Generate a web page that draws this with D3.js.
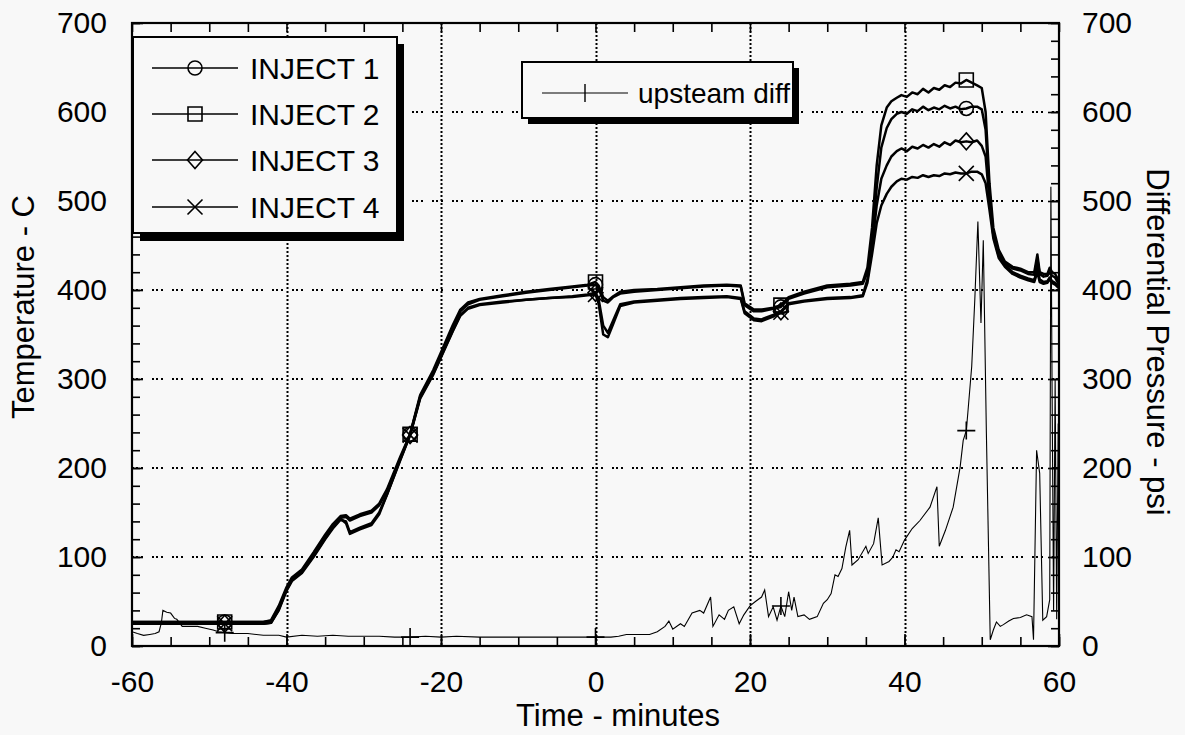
<!DOCTYPE html>
<html><head><meta charset="utf-8">
<script src="https://cdn.jsdelivr.net/npm/d3@7"></script>
<style>
html,body{margin:0;padding:0;background:#f8f8f8;}
svg{display:block;font-family:"Liberation Sans",Arial,Helvetica,sans-serif;}
</style></head><body>
<svg id="chart" width="1185" height="735"></svg>
<script>
// ---------- DATA ----------
const tempTime = [-60,-48,-43,-42,-41,-40,-39.3,-38,-36.5,-35,-34,-33,-32.3,-31.8,-30.5,-29,-28,-27,-25.3,-24,-22.7,-21,-19.7,-18.5,-17.5,-16.5,-15,-12,-9,-6,-3,-1,0,0.4,1,1.6,2.3,3.2,5,8,11,14,17,18.8,19.3,20.5,21.5,23,24,25,27,30,33,34.6,35.2,35.8,36.4,37,37.7,38.3,39,39.6,40.3,41,41.7,42.4,43.1,43.8,44.5,45.2,45.9,46.6,47.3,48,48.7,49.4,50,50.5,51,51.5,52.2,53,54,55,56,56.8,57.2,57.5,58,58.5,58.8,59.1,59.5,60];
const inject1 = [27,27,27,28,43,64,75,84,103,123,135,144,145,141,146,150,158,174,210,238,280,307,333,357,376,384,389,393,397,400,403,405,406,402,388,386,392,396,398,400,402,404,405,404,383,376,376,379,381,390,396,403,405,407,420,455,515,560,582,592,598,600,598,603,601,606,602,605,603,607,604,606,603,604,606,606,603,580,510,462,440,430,424,422,418,417,435,418,415,416,420,416,414,406];
const inject2 = [27,27,27,29,45,66,77,86,105,125,137,146,147,143,148,152,160,176,212,238,282,310,336,360,378,386,390,394,398,401,404,406,409,405,392,388,393,398,400,401,403,405,406,405,385,378,378,380,383,392,398,405,407,409,425,470,540,585,605,612,616,619,617,622,620,626,622,627,625,630,628,633,632,636,633,630,627,600,520,470,445,432,426,424,420,420,440,420,418,418,425,420,418,410];
const inject3 = [25,25,25,26,40,62,73,82,100,120,132,142,140,128,133,138,150,170,208,237,278,305,330,353,371,379,383,386,389,391,393,395,397,390,360,352,366,384,387,389,391,392,393,391,376,368,367,372,376,385,388,391,392,394,412,448,495,525,540,550,556,559,556,561,559,563,560,564,561,566,563,568,566,567,566,568,562,550,500,462,438,428,420,416,413,411,425,412,409,410,414,410,408,403];
const inject4 = [25,25,25,26,41,63,74,83,101,121,133,143,138,126,131,136,148,170,209,237,279,306,331,354,372,380,384,387,389,391,392,394,395,385,350,347,362,382,386,388,390,391,392,390,374,366,365,370,375,384,387,390,391,393,408,440,475,495,508,516,522,525,524,527,526,529,527,529,528,531,530,532,531,531,533,533,530,520,490,458,436,426,418,414,411,409,420,409,407,408,412,408,406,402];

const pressTime = [-60,-59.3,-58.5,-57.7,-57,-56.5,-56.2,-56,-55.5,-55,-54.5,-54.2,-53.5,-52.5,-51.5,-50.5,-49.5,-48.8,-48,-47,-45,-43,-41,-40,-38,-36,-34,-32,-30,-28,-26,-24,-22,-20,-18,-15,-12,-8,-4,0,2,3,4,7,8,9,9.5,10,11,11.5,12.5,13.5,14,14.9,15.2,16,16.7,17.2,17.9,18.6,19.2,20,20.7,21.5,21.9,22.4,23,23.5,24,24.5,25,25.4,25.7,26.2,27,27.7,28.7,29.5,30,30.5,31,31.4,31.9,32.4,32.9,33.2,34,35,35.3,36,36.6,37.1,38,38.5,38.9,39.3,40,41,42,43.3,44.2,44.5,45.3,46.3,47.2,47.6,48,48.2,48.7,49.1,49.5,49.9,50.2,50.6,51.1,51.5,51.9,52.4,52.8,53.5,54.1,55,55.8,56.5,56.7,57.1,57.5,57.9,58.4,58.8,58.95,59.1,59.3,59.5,59.7,59.9,60];
const pressVals = [16,14,12,13,14,16,26,40,38,37,31,30,22,22,22,20,18,16,15,14,14,12,12,10,12,11,12,11,11,11,10,10,11,10,11,10,10,10,10,10,10,11,13,13,16,22,28,19,25,22,37,40,37,55,22,35,30,40,44,25,35,45,50,55,63,33,44,29,45,33,61,40,55,33,35,30,33,48,52,59,80,78,87,111,130,91,97,112,104,115,144,91,95,100,108,106,119,132,141,156,179,112,130,156,201,231,242,262,314,389,477,363,456,239,7,18,27,22,24,28,31,32,35,33,7,220,194,29,33,52,516,295,40,300,30,250,20];

const markerTimes = [-48,-24,0,24,48];
const seriesNames = ["INJECT 1","INJECT 2","INJECT 3","INJECT 4"];
const seriesMarkers = ["circle","square","diamond","x"];
const pressName = "upsteam diff";
const xLabelTicks = [-60,-40,-20,0,20,40,60];
const yLabelTicks = [0,100,200,300,400,500,600,700];
const xGrid = [-40,-20,0,20,40];
const yGrid = [100,200,300,400,500,600];
const xTitle = "Time - minutes";
const yTitleLeft = "Temperature - C";
const yTitleRight = "Differential Pressure - psi";

// ---------- LAYOUT ----------
const L = 132, R = 1059, T = 23, B = 646;
const FONT = 30;
const svg = d3.select("#chart");
svg.append("rect").attr("width",1185).attr("height",735).attr("fill","#f8f8f8");

const x = d3.scaleLinear().domain([-60,60]).range([L,R]);
const y = d3.scaleLinear().domain([0,700]).range([B,T]);
const fmt = d => String(d);

// grid
const g = svg.append("g");
g.selectAll(".vg").data(xGrid).join("line")
  .attr("x1",d=>Math.round(x(d))+0.5).attr("x2",d=>Math.round(x(d))+0.5).attr("y1",T).attr("y2",B)
  .attr("stroke","#000").attr("stroke-width",2).attr("stroke-dasharray","2,2");
g.selectAll(".hg").data(yGrid).join("line")
  .attr("x1",L).attr("x2",R).attr("y1",d=>Math.round(y(d))).attr("y2",d=>Math.round(y(d)))
  .attr("stroke","#000").attr("stroke-width",2).attr("stroke-dasharray","2,2,2,3,2,9");

// data
const line = d3.line().x(d=>x(d[0])).y(d=>y(d[1]));
const tempSeries = [inject1,inject2,inject3,inject4].map(v => tempTime.map((t,i)=>[t,v[i]]));
const pressSeries = pressTime.map((t,i)=>[t,pressVals[i]]);

svg.append("clipPath").attr("id","clip").append("rect")
  .attr("x",L).attr("y",T).attr("width",R-L).attr("height",B-T);
const dataG = svg.append("g").attr("clip-path","url(#clip)");

dataG.append("path").datum(pressSeries).attr("d",line)
  .attr("fill","none").attr("stroke","#000").attr("stroke-width",1.1);
tempSeries.forEach(s=>{
  dataG.append("path").datum(s).attr("d",line)
    .attr("fill","none").attr("stroke","#000").attr("stroke-width",2.5).attr("stroke-linejoin","round");
});

function drawMarker(sel, type, cx, cy){
  const gg = sel.append("g").attr("transform",`translate(${cx},${cy})`)
     .attr("fill","none").attr("stroke","#000").attr("stroke-width",1.6);
  if(type==="circle") gg.append("circle").attr("r",7);
  else if(type==="square") gg.append("path").attr("d","M-7,-7H7V7H-7Z");
  else if(type==="diamond") gg.append("path").attr("d","M0,-8.5L7.5,0L0,8.5L-7.5,0Z");
  else if(type==="x") gg.append("path").attr("d","M-7.5,-7.5L7.5,7.5M-7.5,7.5L7.5,-7.5");
  else if(type==="plus") gg.append("path").attr("d","M-9,0H9M0,-9V9");
}
const mG = svg.append("g");
tempSeries.forEach((s,k)=>{
  s.filter(d=>markerTimes.includes(d[0])).forEach(d=>drawMarker(mG, seriesMarkers[k], x(d[0]), y(d[1])));
});
pressSeries.filter(d=>markerTimes.includes(d[0])).forEach(d=>drawMarker(mG,"plus",x(d[0]),y(d[1])));

// axes
const minorX = d3.range(-60,61,5);
const minorY = d3.range(0,701,20);
function styleAxis(a){ a.select(".domain").remove(); a.selectAll("line").attr("stroke","#000").attr("stroke-width",1.6);
  a.selectAll("text").attr("font-size",FONT).attr("fill","#000").attr("font-family",'"Liberation Sans",Arial,Helvetica,sans-serif'); }

styleAxis(svg.append("g").attr("transform",`translate(0,${B})`)
  .call(d3.axisBottom(x).tickValues(minorX).tickSizeInner(-9).tickSizeOuter(0).tickFormat("")));
styleAxis(svg.append("g").attr("transform",`translate(0,${B})`)
  .call(d3.axisBottom(x).tickValues(xLabelTicks).tickSizeInner(-12).tickSizeOuter(0).tickPadding(25).tickFormat(fmt)));
styleAxis(svg.append("g").attr("transform",`translate(0,${T})`)
  .call(d3.axisTop(x).tickValues(minorX).tickSizeInner(-9).tickSizeOuter(0).tickFormat("")));
styleAxis(svg.append("g").attr("transform",`translate(${L},0)`)
  .call(d3.axisLeft(y).tickValues(minorY).tickSizeInner(-8).tickSizeOuter(0).tickFormat("")));
styleAxis(svg.append("g").attr("transform",`translate(${L},0)`)
  .call(d3.axisLeft(y).tickValues(yLabelTicks).tickSizeInner(-11).tickSizeOuter(0).tickPadding(25).tickFormat(fmt)));
styleAxis(svg.append("g").attr("transform",`translate(${R},0)`)
  .call(d3.axisRight(y).tickValues(minorY).tickSizeInner(-8).tickSizeOuter(0).tickFormat("")));
styleAxis(svg.append("g").attr("transform",`translate(${R},0)`)
  .call(d3.axisRight(y).tickValues(yLabelTicks).tickSizeInner(-11).tickSizeOuter(0).tickPadding(23).tickFormat(fmt)));

svg.append("rect").attr("x",L).attr("y",T).attr("width",R-L).attr("height",B-T)
  .attr("fill","none").attr("stroke","#000").attr("stroke-width",2.2);

// titles
svg.append("text").attr("x",618).attr("y",726).attr("text-anchor","middle")
  .attr("font-size",31).text(xTitle);
svg.append("text").attr("transform","translate(34,307) rotate(-90)").attr("text-anchor","middle")
  .attr("font-size",31).text(yTitleLeft);
svg.append("text").attr("transform","translate(1147,342) rotate(90)").attr("text-anchor","middle")
  .attr("font-size",31).text(yTitleRight);

// legend 1
const lg = svg.append("g");
lg.append("rect").attr("x",140).attr("y",44).attr("width",264).attr("height",197).attr("fill","#000");
lg.append("rect").attr("x",133).attr("y",37).attr("width",264).attr("height",196)
  .attr("fill","#f8f8f8").attr("stroke","#000").attr("stroke-width",2);
const rowsY = [68,114,160,207];
seriesNames.forEach((n,i)=>{
  lg.append("line").attr("x1",152).attr("x2",238).attr("y1",rowsY[i]).attr("y2",rowsY[i])
    .attr("stroke","#000").attr("stroke-width",1.6);
  drawMarker(lg, seriesMarkers[i], 195, rowsY[i]);
  lg.append("text").attr("x",250).attr("y",rowsY[i]).attr("dy","0.36em").attr("font-size",FONT).text(n);
});
// legend 2
const lg2 = svg.append("g");
lg2.append("rect").attr("x",528).attr("y",68).attr("width",271).attr("height",56).attr("fill","#000");
lg2.append("rect").attr("x",522).attr("y",62).attr("width",271).attr("height",56)
  .attr("fill","#f8f8f8").attr("stroke","#000").attr("stroke-width",2);
lg2.append("line").attr("x1",542).attr("x2",628).attr("y1",93).attr("y2",93).attr("stroke","#000").attr("stroke-width",1.2);
lg2.append("line").attr("x1",585).attr("x2",585).attr("y1",84).attr("y2",102).attr("stroke","#000").attr("stroke-width",1.4);
lg2.append("text").attr("x",638).attr("y",93).attr("dy","0.36em").attr("font-size",28).text(pressName);
</script>
</body></html>
